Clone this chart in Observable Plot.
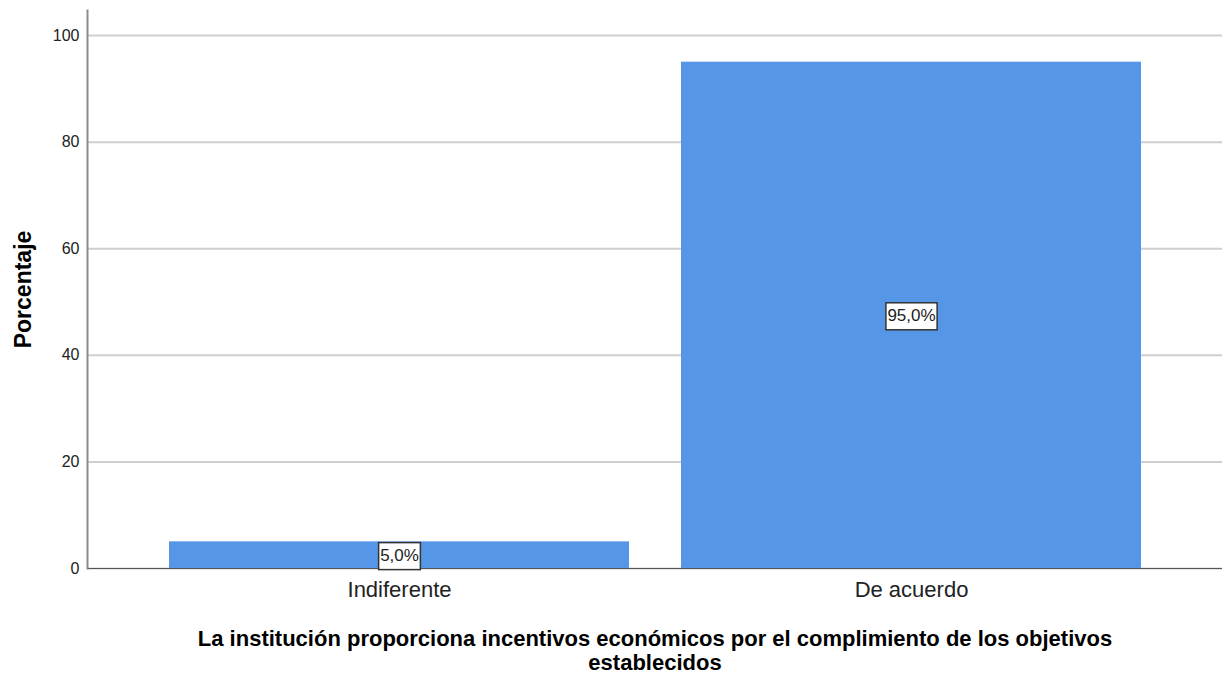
<!DOCTYPE html>
<html>
<head>
<meta charset="utf-8">
<script src="https://cdn.jsdelivr.net/npm/d3@7"></script>
<script src="https://cdn.jsdelivr.net/npm/@observablehq/plot@0.6"></script>
<style>
  html, body { margin: 0; padding: 0; background: #fff; }
  #chart svg { font-family: "Liberation Sans", Arial, sans-serif; }
  #chart [aria-label="y-axis label"] text { font-weight: bold; font-size: 23px; fill: #000; }
</style>
</head>
<body>
<div id="chart"></div>
<script>
const categories = ["Indiferente", "De acuerdo"];
const percentages = [5.0, 95.0];
const labels = ["5,0%", "95,0%"];
const yTicks = [0, 20, 40, 60, 80, 100];
const xTitle = "La institución proporciona incentivos económicos por el complimiento de los objetivos\nestablecidos";
const yTitle = "Porcentaje";

const data = categories.map((c, i) => ({cat: c, pct: percentages[i], label: labels[i]}));

const plot = Plot.plot({
  width: 1227,
  height: 675,
  marginLeft: 87,
  marginRight: 5,
  marginTop: 10,
  marginBottom: 107,
  style: {fontFamily: '"Liberation Sans", Arial, sans-serif', background: "#fff", color: "#000"},
  x: {domain: categories, paddingInner: 0.1016, paddingOuter: 0.159, label: null},
  y: {domain: [0, 104.7], label: null},
  marks: [
    Plot.gridY(yTicks, {stroke: "#cfcfcf", strokeOpacity: 1, strokeWidth: 2}),
    Plot.barY(data, {x: "cat", y: "pct", fill: "#5596e6"}),
    Plot.ruleY([0], {stroke: "#555", strokeWidth: 1.2}),
    Plot.frame({anchor: "left", stroke: "#8c8c8c", strokeWidth: 2}),
    Plot.axisY(yTicks, {tickSize: 0, tickPadding: 8, fontSize: 16, fill: "#222", label: yTitle, labelAnchor: "center", labelArrow: "none", labelOffset: 73}),
    Plot.axisX({tickSize: 0, tickPadding: 13, fontSize: 22, fill: "#222", label: null}),
    Plot.text(data, {x: "cat", y: d => d.pct / 2, text: "label", fontSize: 17, fill: "#222", className: "boxlabel"}),
    Plot.text([xTitle], {frameAnchor: "bottom", lineAnchor: "top", dy: 60, fontSize: 22, fontWeight: "bold", fill: "#000", lineHeight: 1.1})
  ]
});
document.getElementById("chart").appendChild(plot);

// add white boxes with dark border behind the value labels
d3.select(plot).selectAll("g.boxlabel text").each(function() {
  const bb = this.getBBox();
  const padX = 1.5, h = 27;
  const cy = bb.y + bb.height / 2 + 1;
  d3.select(this.parentNode).insert("rect", () => this)
    .attr("transform", this.getAttribute("transform"))
    .attr("x", bb.x - padX).attr("y", cy - h / 2)
    .attr("width", bb.width + 2 * padX).attr("height", h)
    .attr("fill", "#fff").attr("stroke", "#333").attr("stroke-width", 1.5);
});
</script>
</body>
</html>
